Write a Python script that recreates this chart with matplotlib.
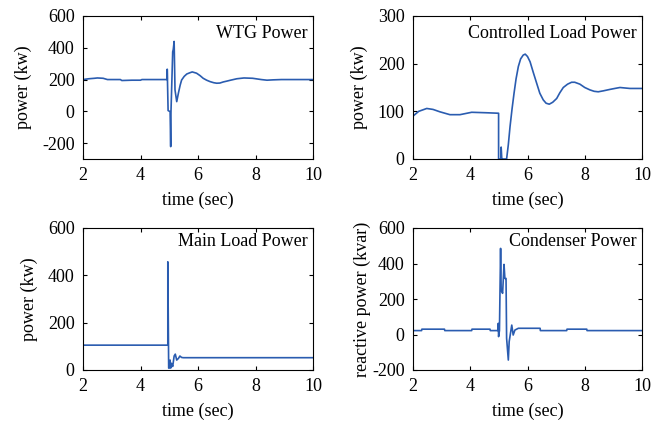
import matplotlib
matplotlib.use("Agg")
import matplotlib.pyplot as plt

plt.rcParams['font.family'] = ['Liberation Serif', 'DejaVu Serif']
plt.rcParams['axes.unicode_minus'] = False
plt.rcParams['font.size'] = 13

# WTG power (kW)
t_wtg = [2.0, 2.2, 2.4, 2.5, 2.7, 2.85, 3.0, 3.3, 3.35, 3.7, 4.0, 4.05, 4.93, 4.93,
         4.96, 5.03, 5.05, 5.06, 5.12, 5.14, 5.17, 5.20, 5.26, 5.32, 5.38, 5.43, 5.52,
         5.61, 5.72, 5.80, 5.95, 6.07, 6.18, 6.30, 6.42, 6.55, 6.65, 6.76, 6.88, 7.0,
         7.11, 7.23, 7.35, 7.6, 7.9, 8.2, 8.4, 8.6, 8.9, 9.2, 10.0]
v_wtg = [200, 205, 208, 210, 208, 200, 200, 200, 194, 196, 196, 200, 200, 265,
         5, -2, -222, -5, 375, 390, 440, 135, 61, 116, 165, 197, 220,
         235, 243, 248, 240, 225, 208, 196, 187, 180, 177, 178, 185, 190,
         195, 200, 205, 210, 208, 200, 196, 198, 200, 200, 200]

# Controlled load power (kW)
t_cl = [2.0, 2.2, 2.48, 2.7, 2.94, 3.29, 3.64, 4.05, 4.57, 4.99, 4.99, 5.07, 5.08,
        5.10, 5.11, 5.27, 5.33, 5.39, 5.46, 5.53, 5.60, 5.68, 5.76, 5.85, 5.92, 6.0,
        6.09, 6.2, 6.32, 6.43, 6.55, 6.65, 6.76, 6.88, 7.02, 7.13, 7.25, 7.4, 7.54,
        7.65, 7.83, 8.0, 8.18, 8.33, 8.47, 8.65, 8.88, 9.05, 9.23, 9.4, 9.58, 10.0]
v_cl = [90, 100, 106, 104, 99, 93, 93, 98, 97, 96, 0, 0, 25,
        2, 0, 0, 30, 68, 105, 138, 168, 194, 210, 218, 220, 215,
        204, 182, 159, 138, 124, 117, 115, 119, 127, 139, 150, 157, 161,
        161, 157, 150, 145, 142, 141, 143, 146, 148, 150, 149, 148, 148]

# Main load power (kW)
t_ml = [2.0, 4.95, 4.95, 4.98, 5.0, 5.03, 5.05, 5.08, 5.12, 5.17, 5.21, 5.26, 5.32,
        5.37, 5.43, 5.49, 10.0]
v_ml = [105, 105, 457, 8, 8, 42, 8, 28, 15, 59, 67, 42, 49,
        59, 53, 52, 52]

# Condenser reactive power (kvar)
t_cd = [2.0, 2.3, 2.31, 3.1, 3.11, 4.05, 4.06, 4.69, 4.7, 4.96, 4.98, 4.99, 5.02,
        5.06, 5.08, 5.13, 5.18, 5.21, 5.25, 5.27, 5.33, 5.36, 5.45, 5.50, 5.56, 5.68,
        6.44, 6.45, 7.37, 7.38, 8.07, 8.08, 10.0]
v_cd = [22, 22, 30, 30, 22, 22, 30, 30, 22, 22, 63, -12, 22,
        485, 250, 232, 395, 316, 316, -21, -144, -40, 53, -3, 25, 35,
        35, 22, 22, 30, 30, 22, 22]

xticks = [2, 4, 6, 8, 10]
panels = [
    dict(t=t_wtg, v=v_wtg, title="WTG Power", ylabel="power (kw)",
         ylim=(-300, 600), yticks=[-200, 0, 200, 400, 600],
         pos=[83/665, 1-159/421, 230/665, 143/421], ty=0.88, lp=7),
    dict(t=t_cl, v=v_cl, title="Controlled Load Power", ylabel="power (kw)",
         ylim=(0, 300), yticks=[0, 100, 200, 300],
         pos=[413/665, 1-159/421, 229/665, 143/421], ty=0.88, lp=7),
    dict(t=t_ml, v=v_ml, title="Main Load Power", ylabel="power (kw)",
         ylim=(0, 600), yticks=[0, 200, 400, 600],
         pos=[83/665, 1-370/421, 230/665, 142/421], ty=0.905, lp=7),
    dict(t=t_cd, v=v_cd, title="Condenser Power", ylabel="reactive power (kvar)",
         ylim=(-200, 600), yticks=[-200, 0, 200, 400, 600],
         pos=[413/665, 1-370/421, 229/665, 142/421], ty=0.905, lp=0.5),
]

fig = plt.figure(figsize=(6.65, 4.21), dpi=100)
line_color = '#2a5cb0'
for p in panels:
    ax = fig.add_axes(p['pos'])
    ax.plot(p['t'], p['v'], color=line_color, lw=1.2)
    ax.set_xlim(2, 10)
    ax.set_ylim(*p['ylim'])
    ax.set_xticks(xticks)
    ax.set_yticks(p['yticks'])
    ax.tick_params(direction='in', top=True, right=True, length=3, width=0.8,
                   labelsize=13, pad=6)
    for s in ax.spines.values():
        s.set_linewidth(0.8)
    ax.set_xlabel("time (sec)", fontsize=13, labelpad=5)
    ax.set_ylabel(p['ylabel'], fontsize=13, labelpad=p['lp'])
    ax.text(0.975, p['ty'], p['title'], transform=ax.transAxes,
            ha='right', va='center', fontsize=13)

fig.savefig("out.png", dpi=100)
